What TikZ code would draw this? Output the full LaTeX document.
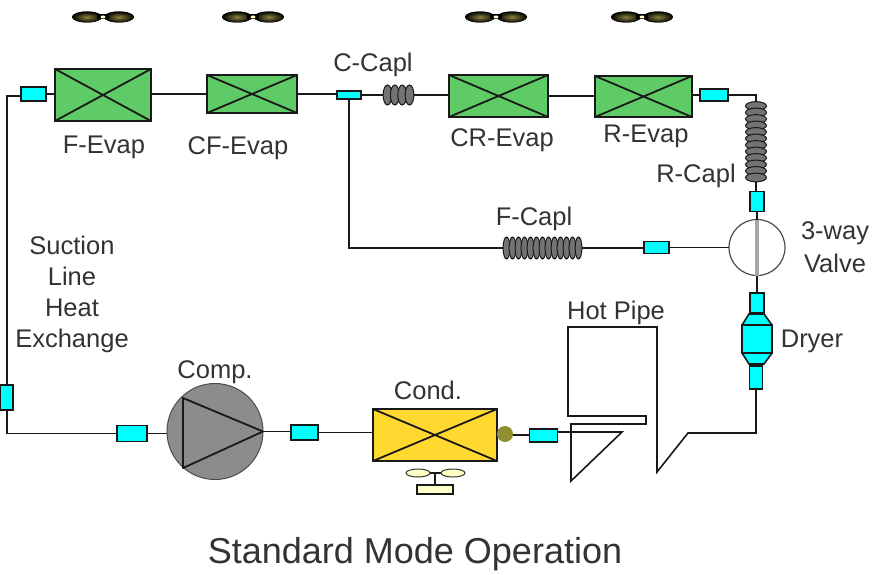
\documentclass[tikz,border=0pt]{standalone}
\usepackage{fontspec}
\setmainfont{Liberation Sans}
\usetikzlibrary{calc}
\definecolor{evapgreen}{HTML}{5FCB66}
\definecolor{condyellow}{HTML}{FFD92F}
\definecolor{valvecyan}{HTML}{00FFFF}
\definecolor{txt}{HTML}{333333}
\definecolor{olivebulb}{HTML}{8F8F2F}
\definecolor{fancream}{HTML}{FFFFC8}
\definecolor{fanolive}{HTML}{8A8240}
\tikzset{
  pipe/.style={line width=1.6pt,draw=black!90,line join=miter},
  hx/.style={draw=black!90,line width=2.2pt,inner sep=0pt,outer sep=0pt},
  evap/.style={hx,fill=evapgreen},
  tube/.style={draw=black!90,line width=1.8pt,fill=valvecyan,inner sep=0pt,outer sep=0pt},
  lbl/.style={text=txt,font=\fontsize{25.5}{28}\selectfont,inner sep=0pt,align=center},
  coilbox/.style={inner sep=0pt,outer sep=0pt},
  turn/.style={draw=black!90,line width=1pt,fill=black!55},
  fanblob/.style={draw=none,inner color=fanolive,outer color=black},
  sizedbox/.style n args={2}{minimum width=#1,minimum height=#2}
}
\newcommand{\Xcross}[1]{\draw[line width=1.8pt,draw=black!90] (#1.north west)--(#1.south east) (#1.north east)--(#1.south west);}
\newcommand{\FanTop}[1]{%
  \fill[fanblob] ($(#1)+(-16,0)$) ellipse [x radius=15,y radius=5.5];
  \fill[fanblob] ($(#1)+(16,0)$) ellipse [x radius=15,y radius=5.5];
  \fill[black] ($(#1)+(-6,-2.5)$) rectangle ($(#1)+(6,2.5)$);
  \fill[fancream] (#1) ellipse [x radius=2.5,y radius=1.5];}
\begin{document}
\begin{tikzpicture}[x=1pt,y=-1pt]
\useasboundingbox (0,0) rectangle (872,575);
\fill[white] (0,0) rectangle (872,575);
% fans (top)
\coordinate (fan1) at (103,17);
\coordinate (fan2) at (253,17);
\coordinate (fan3) at (496,17);
\coordinate (fan4) at (642,17);
\FanTop{fan1}\FanTop{fan2}\FanTop{fan3}\FanTop{fan4}
% nodes
\node[evap,sizedbox={96pt}{52pt}] (fevap) at (103,95) {};
\node[evap,sizedbox={90pt}{38pt}] (cfevap) at (252,94) {};
\node[evap,sizedbox={99pt}{42pt}] (crevap) at (498.5,96) {};
\node[evap,sizedbox={97pt}{41pt}] (revap) at (643.5,96.5) {};
\node[hx,fill=condyellow,sizedbox={124pt}{52pt}] (cond) at (435,435) {};
\node[tube,sizedbox={25pt}{14pt}] (t1) at (33.5,94) {};
\node[tube,sizedbox={24pt}{8pt}] (t2) at (349,95) {};
\node[tube,sizedbox={28pt}{12pt}] (t3) at (714,95) {};
\node[tube,sizedbox={14pt}{20pt}] (t4) at (757,201.5) {};
\node[tube,sizedbox={25pt}{12pt}] (t5) at (656.5,247.5) {};
\node[tube,sizedbox={14pt}{20pt}] (t6) at (757,303) {};
\node[tube,sizedbox={13pt}{23pt}] (t7) at (756,377.5) {};
\node[tube,sizedbox={28pt}{13pt}] (t8) at (543.5,435.5) {};
\node[tube,sizedbox={27pt}{15pt}] (t9) at (304.5,432.5) {};
\node[tube,sizedbox={30pt}{16pt}] (t10) at (132,433.5) {};
\node[tube,sizedbox={13pt}{25pt}] (t11) at (6.5,397.5) {};
\node[coilbox,sizedbox={31pt}{20pt}] (ccoil) at (398.5,95) {};
\node[coilbox,sizedbox={21pt}{81pt}] (rcoil) at (756,141.5) {};
\node[coilbox,sizedbox={77pt}{22pt}] (fcoil) at (542.5,248) {};
\node[circle,draw=black!70,line width=1.2pt,fill=white,minimum size=56pt,inner sep=0pt,outer sep=0pt] (valve) at (757,247.5) {};
\node[circle,draw=black!70,line width=1pt,fill=black!45,minimum size=96pt,inner sep=0pt,outer sep=0pt] (comp) at (215,431.5) {};
\node[hx,fill=fancream,line width=1.3pt,sizedbox={36pt}{9pt}] (fanbase) at (435,489.5) {};
% corner coordinates
\coordinate (c1) at (7,96);
\coordinate (c2) at (7,433.5);
\coordinate (c3) at (756,95);
\coordinate (c4) at (349,248);
\coordinate (h1) at (756,433);
\coordinate (h2) at (688,433);
\coordinate (h3) at (657,472);
\coordinate (h4) at (657,327);
\coordinate (h5) at (568,327);
\coordinate (h6) at (568,416);
\coordinate (h7) at (646,416);
\coordinate (h8) at (646,424);
\coordinate (h9) at (571,424);
\coordinate (h10) at (571,481);
\coordinate (h11) at (622,432);
% connectors
\begin{scope}[pipe]
\draw (t11.south -| c2) -- (c2) -- (t10.west);
\draw (t11.north -| c1) -- (c1) -- (c1 -| t1.west);
\draw (t1.east) -- (t1.east -| fevap.west);
\draw (cfevap.east -| fevap.east) -- (cfevap.west);
\draw (cfevap.east) -- (cfevap.east -| t2.west);
\draw (t2.east) -- (t2.east -| ccoil.west);
\draw (ccoil.east) -- (ccoil.east -| crevap.west);
\draw (crevap.east) -- (crevap.east -| revap.west);
\draw (revap.east |- t3.west) -- (t3.west);
\draw (t3.east) -- (c3) -- (rcoil.north);
\draw (rcoil.south) -- (rcoil.south |- t4.north);
\draw (t4.south) -- (valve.north);
\draw (valve.south) -- (t6.north);
\draw (t2.south) -- (c4) -- (fcoil.west);
\draw (fcoil.east) -- (fcoil.east -| t5.west);
\draw (t5.east) -- (valve.west);
\draw (t10.east) -- (t10.east -| comp.west);
\draw (comp.east) -- (comp.east -| t9.west);
\draw (t9.east) -- (t9.east -| cond.west);
\draw (cond.east) -- (cond.east -| t8.west);
\draw (h11 -| t8.east) -- (h11) -- (h10) -- (h9) -- (h8) -- (h7) -- (h6) -- (h5) -- (h4) -- (h3) -- (h2) -- (h1) -- (t7.south);
\end{scope}
\node[circle,draw=none,fill=olivebulb,minimum size=16pt,inner sep=0pt,outer sep=0pt] (bulb) at (505,434) {};
\Xcross{fevap}\Xcross{cfevap}\Xcross{crevap}\Xcross{revap}\Xcross{cond}
% coils
\foreach \d in {-11,-3.7,3.7,11}
  \draw[turn] ($(ccoil)+(\d,0)$) ellipse [x radius=4.4,y radius=10];
\foreach \d in {-35.5,-29,-22.5,-16,-9.5,-3,3.5,10,16.5,23,29.5,36}
  \draw[turn] ($(rcoil)+(0,\d)$) ellipse [x radius=10.5,y radius=4.4];
\foreach \d in {-36,-30,-24,-18,-12,-6,0,6,12,18,24,30,36}
  \draw[turn] ($(fcoil)+(\d,0)$) ellipse [x radius=3.4,y radius=11];
% valve bar
\draw[line width=4pt,draw=black!35] (valve.north) -- (valve.south);
% compressor triangle
\draw[line width=1.8pt,draw=black!90,line join=round] (183,398) -- (183,468) -- (comp.east) -- cycle;
% dryer
\filldraw[draw=black!90,line width=1.6pt,fill=valvecyan] (749,314) -- (742,325) -- (742,353) -- (749,364) -- (764,364) -- (772,353) -- (772,325) -- (764,314) -- cycle;
\node[hx,fill=valvecyan,line width=1.6pt,sizedbox={30pt}{28pt}] (dryer) at (757,339) {};
\draw[line width=1.8pt,draw=black!90,fill=valvecyan] (t6.south west) rectangle (t6.north east);
\draw[line width=1.8pt,draw=black!90,fill=valvecyan] (t7.south west) rectangle (t7.north east);
% condenser fan
\draw[draw=black!90,line width=1.2pt] (430,473) -- (441,473);
\draw[draw=black!90,line width=1.2pt] (fanbase.north) -- (435,473);
\draw[draw=black!80,line width=1pt,fill=fancream] (418,473) ellipse [x radius=12,y radius=4];
\draw[draw=black!80,line width=1pt,fill=fancream] (453,473) ellipse [x radius=12,y radius=4];
% labels
\node[lbl] (lfevap) at (104,147) {F-Evap};
\node[lbl] (lcfevap) at (238,148) {CF-Evap};
\node[lbl] (lccapl) at (373,65) {C-Capl};
\node[lbl] (lcrevap) at (502,140) {CR-Evap};
\node[lbl] (lrevap) at (646,136) {R-Evap};
\node[lbl] (lrcapl) at (696,176) {R-Capl};
\node[lbl] (lfcapl) at (534,219) {F-Capl};
\node[lbl] (l3a) at (835,233) {3-way};
\node[lbl] (l3b) at (835,263) {Valve};
\node[lbl] (ldry) at (812,341) {Dryer};
\node[lbl] (lhot) at (616,313) {Hot Pipe};
\node[lbl] (lcond) at (428,390) {Cond.};
\node[lbl] (lcomp) at (215,372) {Comp.};
\node[lbl] (ls1) at (72,245) {Suction};
\node[lbl] (ls2) at (72,276) {Line};
\node[lbl] (ls3) at (72,308) {Heat};
\node[lbl] (ls4) at (72,341) {Exchange};
\node[text=txt,font=\fontsize{36}{40}\selectfont,inner sep=0pt] (title) at (415,554) {Standard Mode Operation};
\end{tikzpicture}
\end{document}
